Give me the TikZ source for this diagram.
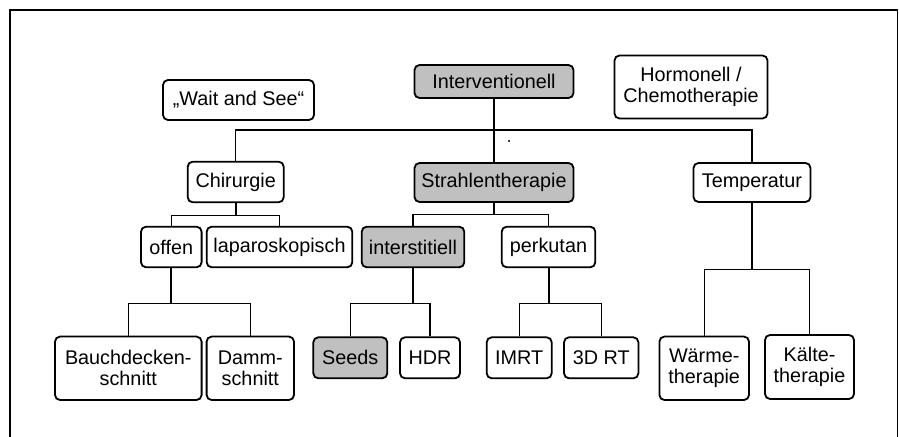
\documentclass[tikz,border=0pt]{standalone}
\usepackage{fontspec}
\setmainfont{Liberation Sans}
\usetikzlibrary{positioning}
\definecolor{BoxGray}{RGB}{192,192,192}
\tikzset{
  % Kästen
  box/.style={draw,rounded corners=2.5pt,line width=0.9pt,inner sep=1pt,align=center,
    font=\fontsize{9.9}{10.5}\selectfont},
  box hl/.style={box,fill=BoxGray},
  % Verbindungen
  connect/.style={line width=0.6pt},
  connect stem/.style={line width=1pt}
}

\begin{document}
\begin{tikzpicture}[x=0.5pt,y=-0.5pt]
  \useasboundingbox (0,0) rectangle (899,437);
  \draw[line width=0.6pt] (10,437) -- (10,10) -- (897.5,10) -- (897.5,437);
  % oberste Ebene
  \node[box,minimum width=75.5pt,minimum height=20pt] (wait) at (238.5,100) {„Wait and See“};
  \node[box hl,minimum width=79.5pt,minimum height=16.5pt] (interv) at (494,81.5) {Interventionell};
  \node[box,minimum width=76.5pt,minimum height=31.5pt] (horm) at (691,87) {Hormonell /\\Chemotherapie};
  % zweite Ebene
  \node[box,minimum width=48pt,minimum height=20.3pt] (chir) at (235.7,182) {Chirurgie};
  \node[box hl,minimum width=79.5pt,minimum height=19.5pt] (strahl) at (494,182.5) {Strahlentherapie};
  \node[box,minimum width=58.5pt,minimum height=19.5pt] (temp) at (752,182.5) {Temperatur};
  % dritte Ebene
  \node[box,minimum width=30.3pt,minimum height=20.3pt] (offen) at (171.3,247) {offen};
  \node[box,minimum width=72.8pt,minimum height=20.3pt] (lapar) at (279.5,247) {laparoskopisch};
  \node[box hl,minimum width=51.3pt,minimum height=20.3pt] (inter) at (413,247) {interstitiell};
  \node[box,minimum width=46.8pt,minimum height=20.3pt] (perk) at (548.5,247) {perkutan};
  % unterste Ebene
  \node[box,minimum width=73.3pt,minimum height=31.7pt] (bauch) at (128.3,368.3) {Bauchdecken-\\schnitt};
  \node[box,minimum width=43.7pt,minimum height=31.7pt] (damm) at (250.3,368.3) {Damm-\\schnitt};
  \node[box hl,minimum width=37pt,minimum height=20.5pt] (seeds) at (350.3,357.8) {Seeds};
  \node[box,minimum width=30pt,minimum height=20.5pt] (hdr) at (430,357.8) {HDR};
  \node[box,minimum width=32.5pt,minimum height=20.5pt] (imrt) at (519.2,357.8) {IMRT};
  \node[box,minimum width=37.2pt,minimum height=20.5pt] (rt3d) at (601.2,357.8) {3D RT};
  \node[box,minimum width=44.8pt,minimum height=31.7pt] (waerme) at (704.2,368.3) {Wärme-\\therapie};
  \node[box,minimum width=44.5pt,minimum height=32pt] (kaelte) at (809.5,367) {Kälte-\\therapie};
  % Verbindungen
  \coordinate (bus) at (0,130);
  \draw[connect stem] (interv.south) -- (strahl.north);
  \draw[connect] (chir.north) -- (chir.north |- bus) -- (temp.north |- bus) -- (temp.north);
  \fill (509,141) circle (0.6pt);
  \draw[connect stem] (chir.south) -- ++(0,12.3) coordinate (c1);
  \draw[connect] (offen.north) |- (c1) -| (lapar.north);
  \draw[connect stem] (strahl.south) -- ++(0,11.8) coordinate (c2);
  \draw[connect] (inter.north) |- (c2) -| (perk.north);
  \draw[connect stem] (offen.south) -- ++(0,35) coordinate (c3);
  \draw[connect] (bauch.north) |- (c3) -| (damm.north);
  \draw[connect stem] (inter.south) -- ++(0,35.5) coordinate (c4);
  \draw[connect] (seeds.north) |- (c4) -| (hdr.north);
  \draw[connect stem] (perk.south) -- ++(0,35.5) coordinate (c5);
  \draw[connect] (imrt.north) |- (c5) -| (rt3d.north);
  \draw[connect stem] (temp.south) -- ++(0,66.5) coordinate (c6);
  \draw[connect] (waerme.north) |- (c6) -| (kaelte.north);
\end{tikzpicture}
\end{document}
